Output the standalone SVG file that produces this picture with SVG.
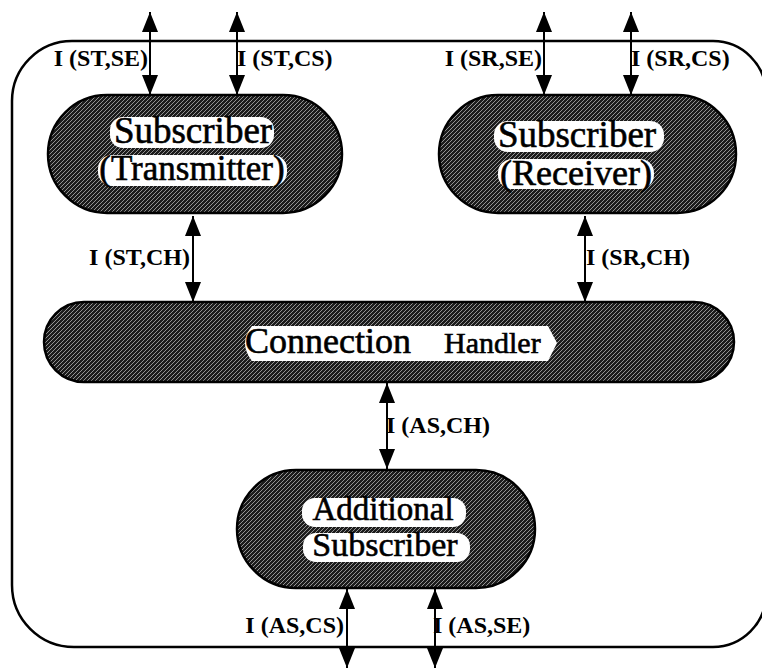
<svg xmlns="http://www.w3.org/2000/svg" width="762" height="671" viewBox="0 0 762 671">
<style>
.pill{fill:url(#hatch);stroke:#000;stroke-width:2.5}
.lbl{fill:#fff}
.nt{font-family:"Liberation Serif","Times New Roman",serif;fill:#000;stroke:#000;stroke-width:0.6;text-anchor:middle}
.it{font-family:"Liberation Serif","Times New Roman",serif;font-size:24px;font-weight:bold;fill:#000}
.conn{stroke:#000;stroke-width:2;fill:none;marker-start:url(#ah);marker-end:url(#ah)}
.frame{fill:none;stroke:#000;stroke-width:2.5}
</style>
<defs>
<pattern id="hatch" width="4" height="4" patternUnits="userSpaceOnUse">
<rect width="4" height="4" fill="#1c1c1c"/>
<path d="M-1,1 L1,-1 M0,4 L4,0 M3,5 L5,3" stroke="#a0a0a0" stroke-width="0.9"/>
</pattern>
<marker id="ah" viewBox="0 0 20 16" refX="20" refY="8" markerWidth="20" markerHeight="16" markerUnits="userSpaceOnUse" orient="auto-start-reverse">
<path d="M0,0 L20,8 L0,16 Z" fill="#000"/>
</marker>
</defs>
<path class="frame" d="M72,41 H713 A53,53 0 0 1 766,94 V594 A53,53 0 0 1 713,647 H74 A62,62 0 0 1 12,585 V101 A60,60 0 0 1 72,41 Z"/>
<g id="node-st">
<rect class="pill" x="48" y="95" width="294" height="118" rx="59"/>
<rect class="lbl" x="110" y="117" width="164" height="31" rx="13"/>
<rect class="lbl" x="98" y="155" width="189" height="31" rx="14"/>
<text class="nt" x="193" y="143" font-size="37">Subscriber</text>
<text class="nt" x="192" y="180" font-size="35">(Transmitter)</text>
</g>
<g id="node-sr">
<rect class="pill" x="439" y="95" width="297" height="118" rx="59"/>
<rect class="lbl" x="494" y="121" width="170" height="31" rx="14"/>
<rect class="lbl" x="498" y="159" width="156" height="30" rx="14"/>
<text class="nt" x="577" y="147" font-size="37">Subscriber</text>
<text class="nt" x="576" y="185" font-size="36">(Receiver)</text>
</g>
<g id="node-ch">
<rect class="pill" x="44" y="302" width="690" height="80" rx="40"/>
<path class="lbl" d="M252,326 H548 L557,343 L548,361 H252 Q238,343 252,326 Z"/>
<text class="nt" x="394" y="353" style="text-anchor:start" font-size="36"><tspan x="245">Connection</tspan><tspan x="444" font-size="30">Handler</tspan></text>
</g>
<g id="node-as">
<rect class="pill" x="237" y="470" width="298" height="118" rx="59"/>
<rect class="lbl" x="302" y="498" width="164" height="29" rx="13"/>
<rect class="lbl" x="303" y="533" width="167" height="29" rx="13"/>
<text class="nt" x="383" y="520" font-size="33">Additional</text>
<text class="nt" x="385" y="556" font-size="34">Subscriber</text>
</g>
<g id="connectors">
<line class="conn" x1="150" y1="12" x2="150" y2="95"/>
<line class="conn" x1="237" y1="12" x2="237" y2="95"/>
<line class="conn" x1="544" y1="12" x2="544" y2="95"/>
<line class="conn" x1="631" y1="12" x2="631" y2="95"/>
<line class="conn" x1="193" y1="216" x2="193" y2="302"/>
<line class="conn" x1="585" y1="216" x2="585" y2="302"/>
<line class="conn" x1="387" y1="383" x2="387" y2="469"/>
<line class="conn" x1="347" y1="589" x2="347" y2="668"/>
<line class="conn" x1="435" y1="589" x2="435" y2="668"/>
<text class="it" x="148" y="66" text-anchor="end">I (ST,SE)</text>
<text class="it" x="237" y="66">I (ST,CS)</text>
<text class="it" x="542" y="66" text-anchor="end">I (SR,SE)</text>
<text class="it" x="631" y="66">I (SR,CS)</text>
<text class="it" x="190" y="265" text-anchor="end">I (ST,CH)</text>
<text class="it" x="586" y="265">I (SR,CH)</text>
<text class="it" x="386" y="433">I (AS,CH)</text>
<text class="it" x="344" y="633" text-anchor="end">I (AS,CS)</text>
<text class="it" x="433" y="633">I (AS,SE)</text>
</g>
</svg>
